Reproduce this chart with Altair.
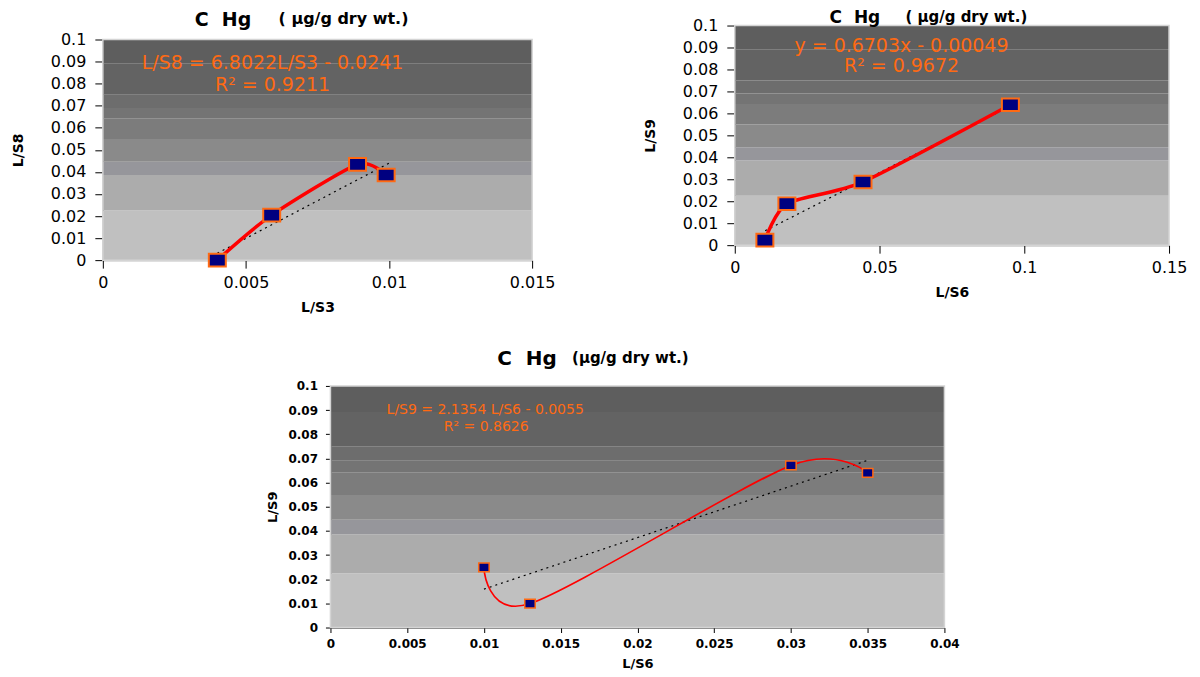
import altair as alt
import pandas as pd

# ---------------- data ----------------
y_ticks = [0, 0.01, 0.02, 0.03, 0.04, 0.05, 0.06, 0.07, 0.08, 0.09, 0.1]

band_lo = [0, 0.0225, 0.0386, 0.0446, 0.0549, 0.0643, 0.069, 0.0750, 0.0892]
band_hi = [0.0225, 0.0386, 0.0446, 0.0549, 0.0643, 0.069, 0.0750, 0.0892, 0.1]
band_col = ["#c0c0c0", "#acacac", "#96969b", "#8a8a8a", "#7c7c7c",
            "#747474", "#6d6d6d", "#636363", "#5e5e5e"]

# panel 1 : L/S8 vs L/S3
p1_x = [0.0040, 0.0059, 0.0089, 0.0099]
p1_y = [0.0000, 0.0204, 0.0434, 0.0386]
p1_tx = [0.0040, 0.0101]
p1_ty = [0.0031, 0.0446]
p1_xticks = [0, 0.005, 0.01, 0.015]
p1_eq = ["L/S8 = 6.8022L/S3 - 0.0241", "R² = 0.9211"]

# panel 2 : L/S9 vs L/S6
p2_x = [0.0104, 0.0180, 0.0443, 0.0952]
p2_y = [0.0023, 0.0189, 0.0288, 0.0639]
p2_tx = [0.0105, 0.0950]
p2_ty = [0.0066, 0.0632]
p2_xticks = [0, 0.05, 0.1, 0.15]
p2_eq = ["y = 0.6703x - 0.00049", "R² = 0.9672"]

# panel 3 : L/S9 vs L/S6
p3_x = [0.0100, 0.0130, 0.0300, 0.0350]
p3_y = [0.0249, 0.0099, 0.0671, 0.0640]
p3_tx = [0.0100, 0.0350]
p3_ty = [0.0159, 0.0692]
p3_xticks = [0, 0.005, 0.01, 0.015, 0.02, 0.025, 0.03, 0.035, 0.04]
p3_eq = ["L/S9 = 2.1354 L/S6 - 0.0055", "R² = 0.8626"]

FONT = "DejaVu Sans"
ORANGE = "#ff6a13"
LABEL = "format(datum.value, '~g')"


def panel(xs, ys, tx, ty, xdom, xticks, xtitle, ytitle, eq, W, H, st):
    off = st.get("top", 0)
    pts = pd.DataFrame({"x": xs, "y": ys})
    trend = pd.DataFrame({"x": tx, "y": ty})
    bands = pd.DataFrame({"lo": band_lo, "hi": band_hi, "c": band_col})

    xsc = alt.Scale(domain=xdom, nice=False, zero=False)
    ysc = alt.Scale(domain=[0, 0.1], nice=False, zero=False, range=[H + off, off])
    common = dict(grid=False, labelExpr=LABEL,
                  labelFont=FONT, labelFontSize=st["lfs"], labelFontWeight=st["lfw"],
                  labelColor="black", tickColor="black", domainColor="black",
                  tickSize=st["tick"], titleFont=FONT, titleFontSize=st["tfs"],
                  titleFontWeight="bold", titleColor="black", labelFlush=False)
    xaxis = alt.Axis(values=xticks, title=xtitle, labelPadding=st["xlp"],
                     titlePadding=st["xtp"], **common)
    yaxis = alt.Axis(values=y_ticks, title=ytitle, labelPadding=st["ylp"],
                     titlePadding=st["ytp"], **common)

    X = alt.X("x:Q", scale=xsc, axis=xaxis)
    Y = alt.Y("y:Q", scale=ysc, axis=yaxis)

    bg = alt.Chart(bands).mark_rect().encode(
        x=alt.value(0), x2=alt.value(W),
        y=alt.Y("lo:Q", scale=ysc, axis=yaxis), y2="hi:Q",
        color=alt.Color("c:N", scale=None))

    border = alt.Chart(pd.DataFrame({"a": [0]})).mark_rect(
        fill=None, stroke="#d4d4d4", strokeWidth=1.5
    ).encode(x=alt.value(0), x2=alt.value(W), y=alt.value(off), y2=alt.value(H + off))

    tl = alt.Chart(trend).mark_line(color="black", strokeWidth=1.2,
                                    strokeDash=[2, 4]).encode(x=X, y=Y)
    ln = alt.Chart(pts).mark_line(color="#ff0000", strokeWidth=st["lw"],
                                  interpolate="cardinal", tension=st["tension"]
                                  ).encode(x=X, y=Y)
    pt = alt.Chart(pts).mark_point(shape=st["shape"], size=st["msize"], filled=True,
                                   fill="#000080", stroke=ORANGE,
                                   strokeWidth=st["mstroke"], opacity=1).encode(x=X, y=Y)

    def txt(t, pos, size, weight, align, baseline, color):
        return alt.Chart(pd.DataFrame({"t": [t]})).mark_text(
            font=FONT, fontSize=size, fontWeight=weight, color=color,
            align=align, baseline=baseline
        ).encode(x=alt.value(pos[0]), y=alt.value(pos[1] + off), text="t:N")

    eq1 = txt(eq[0], st["e1"], st["efs"], "normal", "center", "middle", ORANGE)
    eq2 = txt(eq[1], st["e2"], st["efs"], "normal", "center", "middle", ORANGE)
    t1 = txt("C\u00a0 Hg", st["h1"], st["hfs"], "bold", "left", "alphabetic", "black")
    t2 = txt(st["sub"], st["h2"], st["sfs"], "bold", "left", "alphabetic", "black")

    return alt.layer(bg, border, tl, ln, pt, eq1, eq2, t1, t2).properties(
        width=W, height=H + off)


top_style = dict(lfs=16, lfw="normal", tick=8, xlp=6, ylp=9, tfs=14, xtp=10, ytp=25,
                 lw=3.5, tension=0.3, shape="M-1,-0.74L1,-0.74L1,0.74L-1,0.74Z",
                 msize=289, mstroke=2, efs=19, hfs=19, sfs=16)

s1 = dict(top_style, top=14, e1=(170, 24), e2=(170, 46), h1=(92, -14), h2=(176, -16),
          sub="( µg/g dry wt.)")
s2 = dict(top_style, hfs=17, sfs=15, e1=(167, 21), e2=(167, 41), h1=(95, -3),
          h2=(171, -4), sub="( µg/g dry wt.)")
s3 = dict(lfs=12, lfw="bold", tick=5, xlp=6, ylp=8, tfs=13, xtp=8, ytp=8,
          lw=1.6, tension=0.15, shape="M-1,-0.85L1,-0.85L1,0.85L-1,0.85Z",
          msize=110, mstroke=1.5, efs=14, hfs=20, sfs=15,
          e1=(155, 24), e2=(156, 41), h1=(167, -21), h2=(242, -23),
          sub="(µg/g dry wt.)")

c1 = panel(p1_x, p1_y, p1_tx, p1_ty, [0, 0.015], p1_xticks, "L/S3", "L/S8",
           p1_eq, 430, 221, s1)
c2 = panel(p2_x, p2_y, p2_tx, p2_ty, [0, 0.15], p2_xticks, "L/S6", "L/S9",
           p2_eq, 435, 220, s2)
c3 = panel(p3_x, p3_y, p3_tx, p3_ty, [0, 0.04], p3_xticks, "L/S6", "L/S9",
           p3_eq, 615, 242, s3)

spacer = alt.Chart(pd.DataFrame({"a": [0]})).mark_rule(opacity=0).encode(
    x=alt.value(0), y=alt.value(0), y2=alt.value(1)).properties(width=164, height=1)

top = alt.hconcat(c1, c2, spacing=88)
bottom = alt.hconcat(spacer, c3, spacing=0)

chart = alt.vconcat(top, bottom, spacing=35).properties(
    padding={"left": 3, "top": 0, "right": 5, "bottom": 5},
    background="white",
).configure_view(stroke=None)

chart.save("out.html", embed_options={"renderer": "svg", "actions": False})
